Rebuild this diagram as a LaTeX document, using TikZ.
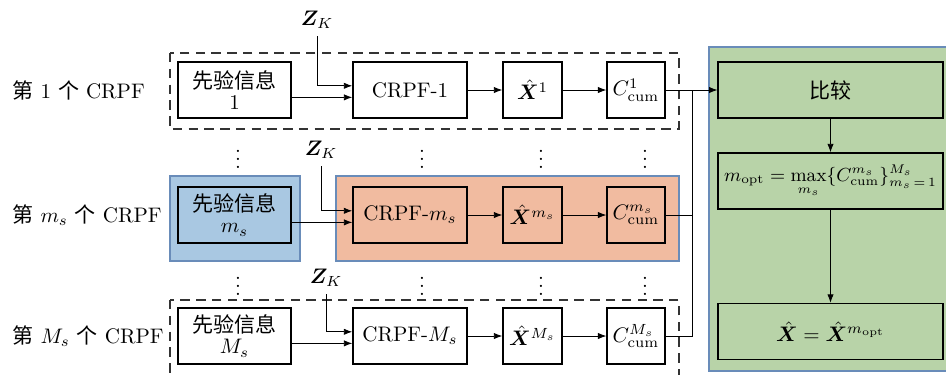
\documentclass[tikz,border=0pt]{standalone}
\usepackage{amsmath,amssymb,bm}
\usepackage{fontspec}
\newfontfamily\cjk{Noto Sans CJK SC}
\usetikzlibrary{arrows.meta,positioning,calc}
\definecolor{priorblue}{RGB}{169,200,226}
\definecolor{pforange}{RGB}{241,187,160}
\definecolor{cmpgreen}{RGB}{184,211,168}
\definecolor{edgeblue}{RGB}{105,140,185}

\begin{document}
\begin{tikzpicture}[x=0.01673cm,y=-0.01673cm,
  blk/.style={draw,semithick,minimum height=0.94cm,inner sep=1pt,align=center},
  arr/.style={-{Latex[length=4pt,width=3pt]}},
  grp/.style={draw=edgeblue,semithick},
  dashgrp/.style={draw=black!80,semithick,dash pattern=on 4.5pt off 3pt}]
  \clip (0,0) rectangle (946,374);

  % Group frames
  \draw[dashgrp] (170,53) rectangle (679,129);
  \filldraw[grp,fill=priorblue] (170,176) rectangle (300,261);
  \filldraw[grp,fill=pforange] (336,176) rectangle (679,261);
  \draw[dashgrp] (170,300) rectangle (679,392);
  \filldraw[grp,fill=cmpgreen] (709,47) rectangle (960,371);

  % One row per filter
  \foreach \r/\y/\idx/\fa/\fb/\zx/\zy in {1/90/1/white/white/317/20,
      2/215/m_s/priorblue/pforange/321/150,
      3/336/M_s/white/white/326/278}{
    \node[anchor=west,inner sep=1pt] (lab\r) at (10,\y)
      {{\cjk 第} $\idx$ {\cjk 个} CRPF};
    \node[blk,minimum width=1.89cm,fill=\fa] (info\r) at (234.5,\y)
      {{\cjk 先验信息}\\[-2pt]$\idx$};
    \node[blk,minimum width=1.91cm,fill=\fb] (crpf\r) at (410,\y) {CRPF-$\idx$};
    \node[blk,minimum width=0.99cm,fill=\fb] (xh\r) at (532.5,\y)
      {$\hat{\bm{X}}^{\idx}$};
    \node[blk,minimum width=0.97cm,fill=\fb] (cc\r) at (636,\y)
      {$C^{\idx}_{\mathrm{cum}}$};
    \node (zk\r) at (\zx,\zy) {$\bm{Z}_K$};

    \draw[arr] (zk\r.south) |- ([yshift=2pt]crpf\r.west);
    \draw[arr] ([yshift=-3.5pt]info\r.east) -- ([yshift=-3.5pt]crpf\r.west);
    \draw[arr] (crpf\r) -- (xh\r);
    \draw[arr] (xh\r) -- (cc\r);
  }

  % Skipped rows
  \foreach \x/\n in {238/a,422/b,541/c,645/d}{
    \node[inner sep=0pt] (up\n) at (\x,153) {$\vdots$};
    \node[inner sep=0pt] (dn\n) at (\x,280) {$\vdots$};
  }

  % Selection column
  \node[blk,minimum width=3.76cm,fill=cmpgreen] (cmp) at (830.5,90) {{\cjk 比较}};
  \node[blk,minimum width=3.76cm,fill=cmpgreen,font=\small] (mopt) at (830.5,181)
    {$m_{\mathrm{opt}} = \max\limits_{m_s}\{C^{m_s}_{\mathrm{cum}}\}^{M_s}_{m_s\,=\,1}$};
  \node[blk,minimum width=3.76cm,fill=cmpgreen] (xhat) at (830.5,331.5)
    {$\hat{\bm{X}} = \hat{\bm{X}}^{m_{\mathrm{opt}}}$};

  % Collect the scores
  \coordinate (jn) at (692,90);
  \draw[arr] (cc1) -- (cmp);
  \draw (cc2.east) -- (cc2.east -| jn);
  \draw (cc3.east) -| (jn);
  \draw[arr] (cmp) -- (mopt);
  \draw[arr] (mopt) -- (xhat);
\end{tikzpicture}
\end{document}
